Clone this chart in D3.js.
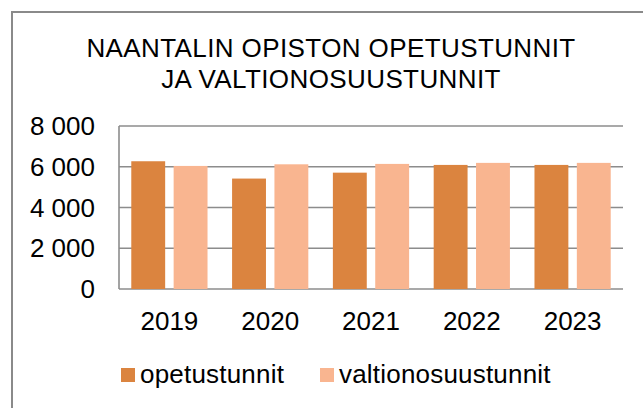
<!DOCTYPE html>
<html>
<head>
<meta charset="utf-8">
<script src="https://cdn.jsdelivr.net/npm/d3@7"></script>
<style>
  body { margin: 0; background: #fff; }
  text { font-family: Arial, "Liberation Sans", sans-serif; fill: #000; }
</style>
</head>
<body>
<div id="chart"></div>
<script>
// chart data
var years = ['2019', '2020', '2021', '2022', '2023'];
var seriesNames = ['opetustunnit', 'valtionosuustunnit'];
var opetustunnit = [6270, 5420, 5710, 6090, 6090];
var valtionosuustunnit = [6040, 6120, 6140, 6190, 6190];
var yTicks = [0, 2000, 4000, 6000, 8000];
var titleLines = ['NAANTALIN OPISTON OPETUSTUNNIT', 'JA VALTIONOSUUSTUNNIT'];

var colors = ['#db843f', '#f9b590'];

var width = 643;
var height = 408;
var margin = { top: 126, right: 20, bottom: 119, left: 119 };
var innerW = width - margin.left - margin.right;
var innerH = height - margin.top - margin.bottom;

var rows = years.map(function (y, i) {
  return { year: y, values: [opetustunnit[i], valtionosuustunnit[i]] };
});

var svg = d3.select('#chart').append('svg')
  .attr('width', width)
  .attr('height', height);

// outer chart border (runs off the right and bottom edge)
svg.append('rect')
  .attr('x', 12).attr('y', 12)
  .attr('width', width + 20).attr('height', height + 20)
  .attr('fill', 'none')
  .attr('stroke', '#8a8a8a')
  .attr('stroke-width', 2);

// title
svg.append('text')
  .attr('text-anchor', 'middle')
  .style('font-size', '26px')
  .style('letter-spacing', '0.4px')
  .selectAll('tspan')
  .data(titleLines)
  .enter()
  .append('tspan')
    .attr('x', 331)
    .attr('y', function (d, i) { return 57 + i * 31; })
    .text(function (d) { return d; });

var g = svg.append('g')
  .attr('transform', 'translate(' + margin.left + ',' + margin.top + ')');

var x0 = d3.scaleBand()
  .domain(years)
  .range([0, innerW]);

var x1 = d3.scaleBand()
  .domain(d3.range(seriesNames.length))
  .range([0, x0.bandwidth()])
  .paddingInner(0.2)
  .paddingOuter(0.29);

var y = d3.scaleLinear()
  .domain([0, 8000])
  .range([innerH, 0]);

var fmt = d3.formatLocale({ decimal: ',', thousands: '\u00a0', grouping: [3], currency: ['', ''] }).format(',');

// gridlines
g.selectAll('.grid')
  .data(yTicks)
  .enter()
  .append('line')
    .attr('class', 'grid')
    .attr('x1', 0)
    .attr('x2', innerW)
    .attr('y1', function (d) { return y(d); })
    .attr('y2', function (d) { return y(d); })
    .attr('stroke', '#8c8c8c')
    .attr('stroke-width', 1.6);

// left axis line
g.append('line')
  .attr('x1', 0).attr('x2', 0)
  .attr('y1', y(8000)).attr('y2', y(0))
  .attr('stroke', '#8c8c8c')
  .attr('stroke-width', 1.6);

// y tick labels
g.selectAll('.ylab')
  .data(yTicks)
  .enter()
  .append('text')
    .attr('class', 'ylab')
    .attr('x', -24)
    .attr('y', function (d) { return y(d); })
    .attr('dy', '0.35em')
    .attr('text-anchor', 'end')
    .style('font-size', '26px')
    .text(function (d) { return fmt(d); });

// bars
var groups = g.selectAll('.year')
  .data(rows)
  .enter()
  .append('g')
    .attr('class', 'year')
    .attr('transform', function (d) { return 'translate(' + x0(d.year) + ',0)'; });

groups.selectAll('rect')
  .data(function (d) { return d.values; })
  .enter()
  .append('rect')
    .attr('x', function (d, i) { return x1(i); })
    .attr('width', x1.bandwidth())
    .attr('y', function (d) { return y(d); })
    .attr('height', function (d) { return y(0) - y(d); })
    .attr('fill', function (d, i) { return colors[i]; });

// x labels
g.selectAll('.xlab')
  .data(years)
  .enter()
  .append('text')
    .attr('class', 'xlab')
    .attr('x', function (d) { return x0(d) + x0.bandwidth() / 2; })
    .attr('y', innerH + 41)
    .attr('text-anchor', 'middle')
    .style('font-size', '26px')
    .text(function (d) { return d; });

// legend
var legendX = [121, 320];
var legend = svg.selectAll('.legend')
  .data(seriesNames)
  .enter()
  .append('g')
    .attr('class', 'legend')
    .attr('transform', function (d, i) { return 'translate(' + legendX[i] + ',368)'; });

legend.append('rect')
  .attr('width', 14)
  .attr('height', 14)
  .attr('fill', function (d, i) { return colors[i]; });

legend.append('text')
  .attr('x', 19)
  .attr('y', 14.5)
  .style('font-size', '26px')
  .style('letter-spacing', '0.2px')
  .text(function (d) { return d; });
</script>
</body>
</html>
